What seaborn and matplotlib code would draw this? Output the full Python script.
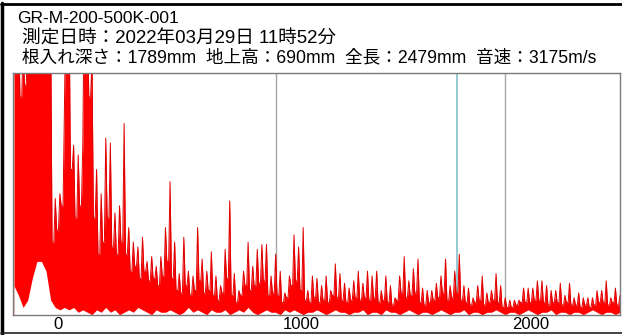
import numpy as np
import pandas as pd
import matplotlib
matplotlib.use("Agg")
import matplotlib.pyplot as plt
from matplotlib.transforms import ScaledTranslation
from matplotlib.lines import Line2D
import seaborn as sns

# ---- text ----
title_id = "GR-M-200-500K-001"
title_date = " 測定日時：2022年03月29日 11時52分"
title_info = " 根入れ深さ：1789mm  地上高：690mm  全長：2479mm  音速：3175m/s"

# ---- data (amplitude in % of the plot height, values >100 are clipped) ----
x_start = -140
x_step = 20

# spike tops (upper envelope peaks), one per x_step
peaks = [130, 130, 110, 130, 130, 130, 130, 130, 120, 48, 50, 85, 130,
         70, 66, 70, 130, 105, 60, 50, 73, 71, 42, 45, 79,
         36, 30, 28, 32, 22, 24, 20, 24, 36, 55, 30, 17,
         32, 18, 16, 36, 23, 18, 26, 16, 12, 27, 47, 17,
         10, 18, 30, 20, 27, 29, 29, 16, 25, 18, 9, 16,
         33, 28, 36, 10, 16, 15, 12, 16, 10, 21, 17, 13,
         11, 14, 18, 13, 18, 16, 18, 10, 16, 12, 7, 16,
         24, 14, 19, 23, 11, 10, 10, 13, 16, 23, 12, 18,
         25, 12, 11, 7, 12, 16, 9, 10, 17, 12, 7, 6,
         6, 6, 11, 11, 11, 14, 14, 12, 10, 10, 13, 8,
         13, 7, 9, 7, 7, 7, 10, 10, 14, 7, 11, 8]

# solid base level between spikes
valleys = [100, 90, 95, 130, 130, 130, 130, 120, 30, 35, 45, 130, 60, 40, 45, 130, 90, 40,
           25, 30, 40, 28, 25, 30, 25, 18, 20, 15, 18, 14, 15, 12, 16, 22,
           15, 10, 9, 12, 8, 10, 14, 9, 10, 8, 6, 9, 15, 8, 5, 8, 12, 10, 12, 13, 14, 8, 9, 8, 5, 7, 12, 14,
           10, 6, 5, 7, 5, 6, 5, 8, 7, 6, 5, 6, 7, 6, 7, 6, 7, 5, 6, 5, 4, 6, 9, 7, 8, 9, 5, 4, 5, 6, 7, 9, 6, 7,
           9, 6, 5, 4, 5, 6, 4, 5, 6, 5, 3, 3, 3, 4, 5, 5, 5, 6, 6, 5, 4, 5, 5, 4, 5, 4, 4, 3, 4, 3, 4, 5, 5, 4, 5, 4]

# lower envelope (signal never goes below this), one per x_step
floors = [12, 8, 3, 6, 15, 22, 22, 18, 6, 3, 2, 3, 2, 3,
          1, 2, 1, 0, 2, 1, 3, 1, 2, 0, 1, 2, 1, 3, 2, 1, 0, 2, 1, 1,
          2, 1, 0, 1, 3, 1, 2, 1, 0, 2, 1, 1, 2, 0, 1, 2, 1, 3, 1, 0,
          1, 2, 1, 1, 0, 2, 1, 2, 1, 0, 1, 1, 2, 1, 0, 1, 2, 1, 1, 0,
          1, 1, 2, 0, 1, 1, 0, 2, 1, 1, 0, 1, 2, 1, 0, 1, 1, 0, 1, 2,
          1, 0, 1, 1, 2, 0, 1, 1, 0, 1, 1, 2, 1, 0, 1, 1, 0, 1, 2, 1,
          0, 1, 1, 2, 0, 1, 1, 0, 1, 1, 0, 1, 2, 1, 0, 1, 1, 0, 1]

grid_x = [0, 1000, 2000]
tick_labels = ["0", "1000", "2000"]
depth_mark = 1789
x_limits = (-144, 2500)

# ---- build signal outline ----
spike_half = 6
ux, uy = [], []
for i, p in enumerate(peaks):
    x0 = x_start + i * x_step
    ux.append(x0)
    uy.append(p)
    if i < len(valleys):
        ux += [x0 + spike_half, x0 + x_step - spike_half]
        uy += [valleys[i], valleys[i]]
df = pd.DataFrame({"x": ux, "amp": uy})
fx = [x_start + i * x_step for i in range(len(floors))]

sns.set_theme(style="white")
plt.rcParams["font.family"] = ["Liberation Sans", "Noto Sans CJK JP", "DejaVu Sans"]

W, H = 622, 335
fig = plt.figure(figsize=(W / 100, H / 100), dpi=100)
fig.patch.set_facecolor("white")
ax = fig.add_axes([13 / W, (H - 314.7) / H, 607 / W, 242 / H])

for gx in grid_x:
    ax.axvline(gx, color="#a6a6a6", lw=1, zorder=1)
ax.axvline(depth_mark, color="#8fc6d0", lw=1.3, zorder=1)

ax.fill_between(df["x"], 0, df["amp"], color="#ff0000", lw=0, zorder=2)
sns.lineplot(data=df, x="x", y="amp", ax=ax, color="#e00000", lw=0.7,
             estimator=None, sort=False, zorder=2.5)
ax.fill_between(fx, 0, floors, color="white", lw=0, zorder=3)

ax.set_xlim(*x_limits)
ax.set_ylim(0, 100)
ax.set_xlabel("")
ax.set_ylabel("")
ax.set_yticks([])
ax.set_xticks(grid_x)
ax.set_xticklabels(tick_labels, ha="left", fontsize=12, color="black")
ax.tick_params(axis="x", length=0, pad=2)
off = ScaledTranslation(7 / 100, 0, fig.dpi_scale_trans)
for lbl in ax.get_xticklabels():
    lbl.set_transform(lbl.get_transform() + off)
for s in ax.spines.values():
    s.set_color("#7a7a7a")
    s.set_linewidth(1)
    s.set_zorder(4)

# titles
fig.text(17 / W, 1 - 18.5 / H, title_id, va="center", ha="left", fontsize=12.5, color="black")
fig.text(17 / W, 1 - 39.5 / H, title_date, va="center", ha="left", fontsize=13.4, color="black")
fig.text(17 / W, 1 - 57.5 / H, title_info, va="center", ha="left", fontsize=12.7, color="black")

# outer frame
fig.add_artist(Line2D([2 / W, 2 / W], [0, 1 - 3 / H], transform=fig.transFigure, color="black", lw=2.5))
fig.add_artist(Line2D([1 / W, 1], [1 - 4 / H, 1 - 4 / H], transform=fig.transFigure, color="black", lw=2.0))
fig.add_artist(Line2D([1 / W, 1], [2 / H, 2 / H], transform=fig.transFigure, color="#222222", lw=1.2))

fig.savefig("out.png", dpi=100)
